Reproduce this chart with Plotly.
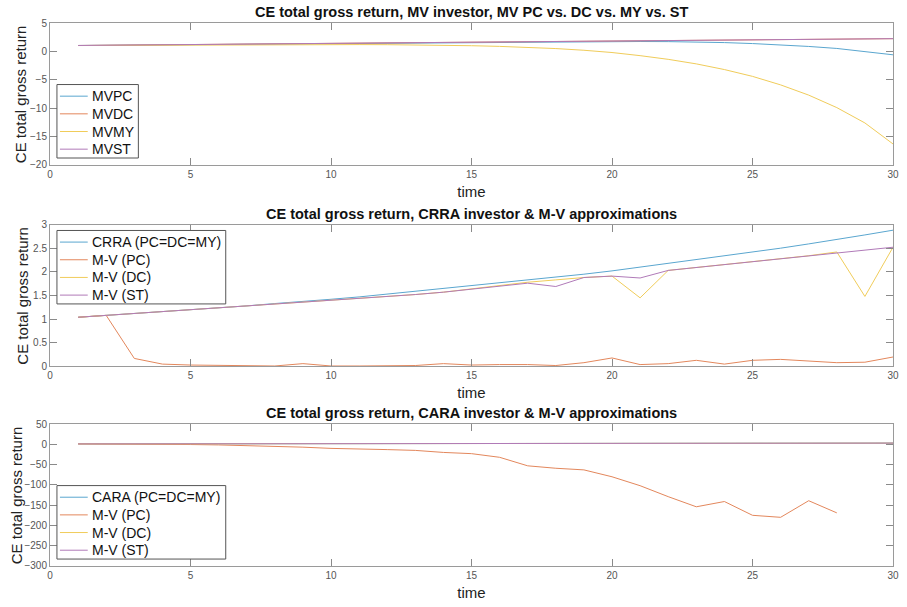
import plotly.graph_objects as go

# ---------------- data ----------------
time = list(range(1, 31))

# Panel 1: MV investor
mvpc = [1.04, 1.08, 1.11, 1.15, 1.19, 1.23, 1.27, 1.31, 1.35, 1.39, 1.43, 1.47, 1.51, 1.55, 1.58,
        1.62, 1.65, 1.68, 1.71, 1.73, 1.74, 1.72, 1.66, 1.55, 1.38, 1.15, 0.87, 0.52, 0.0, -0.6]
mvdc = [1.04, 1.08, 1.11, 1.15, 1.19, 1.23, 1.27, 1.31, 1.35, 1.39, 1.43, 1.47, 1.51, 1.55, 1.59,
        1.63, 1.67, 1.71, 1.75, 1.79, 1.83, 1.87, 1.91, 1.95, 1.99, 2.03, 2.08, 2.13, 2.18, 2.24]
mvmy = [1.03, 1.06, 1.09, 1.12, 1.15, 1.17, 1.19, 1.20, 1.21, 1.21, 1.20, 1.18, 1.14, 1.08, 1.00,
        0.88, 0.72, 0.50, 0.20, -0.20, -0.75, -1.40, -2.20, -3.20, -4.40, -5.90, -7.70, -9.90, -12.60, -16.30]
mvst = [1.04, 1.08, 1.11, 1.15, 1.19, 1.23, 1.27, 1.31, 1.35, 1.39, 1.43, 1.47, 1.51, 1.55, 1.59,
        1.63, 1.67, 1.71, 1.75, 1.79, 1.83, 1.87, 1.91, 1.95, 1.99, 2.03, 2.08, 2.13, 2.18, 2.24]

# Panel 2: CRRA investor & M-V approximations
crra = [1.04, 1.08, 1.11, 1.15, 1.19, 1.24, 1.28, 1.33, 1.37, 1.42, 1.47, 1.53, 1.58, 1.64, 1.70,
        1.76, 1.82, 1.89, 1.95, 2.02, 2.10, 2.17, 2.25, 2.33, 2.41, 2.50, 2.59, 2.68, 2.78, 2.88]
mv_pc = [1.04, 1.08, 0.17, 0.05, 0.03, 0.02, 0.02, 0.01, 0.06, 0.01, 0.01, 0.02, 0.02, 0.06, 0.03,
         0.04, 0.04, 0.02, 0.08, 0.18, 0.04, 0.06, 0.13, 0.05, 0.13, 0.15, 0.11, 0.08, 0.09, 0.20]
mv_dc = [1.04, 1.08, 1.11, 1.15, 1.19, 1.23, 1.27, 1.31, 1.35, 1.40, 1.44, 1.48, 1.52, 1.57, 1.64,
         1.72, 1.78, 1.83, 1.88, 1.91, 1.45, 2.03, 2.09, 2.15, 2.21, 2.27, 2.34, 2.42, 1.48, 2.52]
mv_st = [1.04, 1.08, 1.11, 1.15, 1.19, 1.23, 1.27, 1.31, 1.35, 1.40, 1.44, 1.48, 1.52, 1.57, 1.63,
         1.70, 1.76, 1.69, 1.88, 1.91, 1.87, 2.03, 2.09, 2.15, 2.21, 2.27, 2.33, 2.40, 2.46, 2.52]

# Panel 3: CARA investor & M-V approximations
cara = [1.0, 1.1, 1.2, 1.3, 1.4, 1.5, 1.6, 1.7, 1.8, 1.9, 2.0, 2.1, 2.2, 2.3, 2.4,
        2.5, 2.6, 2.7, 2.8, 2.9, 3.0, 3.0, 3.0, 3.0, 3.0, 3.0, 3.0, 3.0, 3.0, 3.0]
cara_pc = [1.0, 1.0, 0.5, 0.0, -0.5, -1.5, -3.0, -5.0, -7.0, -10.0, -11.0, -13.0, -15.0, -20.0, -23.0,
           -32.0, -53.0, -59.0, -63.0, -80.0, -102.0, -129.0, -154.0, -141.0, -175.0, -180.0, -139.0, -169.0,
           None, None]
cara_dc = cara
cara_st = cara

x_ticks = [0, 5, 10, 15, 20, 25, 30]
y1_ticks = [-20, -15, -10, -5, 0, 5]
y2_ticks = [0, 0.5, 1, 1.5, 2, 2.5, 3]
y3_ticks = [-300, -250, -200, -150, -100, -50, 0, 50]

titles = ["CE total gross return, MV investor, MV PC vs. DC vs. MY vs. ST",
          "CE total gross return, CRRA investor & M-V approximations",
          "CE total gross return, CARA investor & M-V approximations"]
legend_names = [["MVPC", "MVDC", "MVMY", "MVST"],
                ["CRRA (PC=DC=MY)", "M-V (PC)", "M-V (DC)", "M-V (ST)"],
                ["CARA (PC=DC=MY)", "M-V (PC)", "M-V (DC)", "M-V (ST)"]]
y_title = "CE total gross return"
x_title = "time"

# ---------------- styling ----------------
C_BLUE = "#5aa6cf"
C_ORANGE = "#e3875c"
C_YELLOW = "#f0cc5a"
C_PURPLE = "#b07ab8"
colors = [C_BLUE, C_ORANGE, C_YELLOW, C_PURPLE]

FONT = "Liberation Sans, Arial, Helvetica, sans-serif"

fig = go.Figure()

panels = [
    ([mvpc, mvdc, mvmy, mvst], "x", "y"),
    ([crra, mv_pc, mv_dc, mv_st], "x2", "y2"),
    ([cara, cara_pc, cara_dc, cara_st], "x3", "y3"),
]

for (series, xa, ya), names in zip(panels, legend_names):
    for name, vals, col in zip(names, series, colors):
        fig.add_trace(go.Scatter(
            x=time, y=vals, mode="lines", name=name,
            line=dict(color=col, width=1),
            xaxis=xa, yaxis=ya, showlegend=False,
        ))

# geometry (pixels -> paper), margins l=50, r=8, t=23, b=37 -> plot 849 x 547
L, T, W, H = 50.0, 23.0, 849.0, 547.0
def px(xp):
    return (xp - L) / W
def py(yp):
    return 1 - (yp - T) / H
def dom(top_px, bot_px):
    return [py(bot_px), py(top_px)]

panel_px = [(23, 166), (226, 369), (427, 570)]
ylabel_x = [21, 22, 16]

axis_common = dict(
    showline=True, linecolor="#9a9a9a", linewidth=1, mirror="ticks",
    ticks="inside", ticklen=7, tickcolor="#8a8a8a", tickwidth=1,
    showgrid=False, zeroline=False,
    tickfont=dict(family=FONT, size=10, color="#555555"),
)

xcommon = dict(axis_common, range=[0, 30], tickvals=x_ticks,
               title=dict(text=x_title, font=dict(family=FONT, size=15, color="#222222"), standoff=7))

fig.update_layout(
    width=907, height=607,
    margin=dict(l=50, r=8, t=23, b=37),
    paper_bgcolor="white", plot_bgcolor="white",
    font=dict(family=FONT),
    showlegend=False,
    xaxis=dict(xcommon, anchor="y", domain=[0, 1]),
    xaxis2=dict(xcommon, anchor="y2", domain=[0, 1]),
    xaxis3=dict(xcommon, anchor="y3", domain=[0, 1]),
    yaxis=dict(axis_common, anchor="x", domain=dom(*panel_px[0]), range=[-20, 5], tickvals=y1_ticks),
    yaxis2=dict(axis_common, anchor="x2", domain=dom(*panel_px[1]), range=[0, 3], tickvals=y2_ticks,
                ticktext=["0", "0.5", "1", "1.5", "2", "2.5", "3"]),
    yaxis3=dict(axis_common, anchor="x3", domain=dom(*panel_px[2]), range=[-300, 50], tickvals=y3_ticks),
)

# titles and y-axis titles
for t, (top_px, bot_px), lx in zip(titles, panel_px, ylabel_x):
    fig.add_annotation(
        text="<b>" + t + "</b>", x=0.5, xref="paper", y=py(top_px), yref="paper",
        xanchor="center", yanchor="bottom", yshift=1, showarrow=False,
        font=dict(family=FONT, size=14.5, color="#111111"),
    )
    fig.add_annotation(
        text=y_title, textangle=-90, x=px(lx), xref="paper",
        y=py((top_px + bot_px) / 2.0), yref="paper",
        xanchor="center", yanchor="middle", showarrow=False,
        font=dict(family=FONT, size=15, color="#222222"),
    )

# MATLAB-style legend boxes (box, sample lines, labels)
legend_boxes = [(57, 85, 139), (57, 232, 227), (57, 489, 227)]
ROW0, ROWGAP, BOXH = 11.7, 17.8, 74
for names, (bx, by, br) in zip(legend_names, legend_boxes):
    fig.add_shape(type="rect", xref="paper", yref="paper",
                  x0=px(bx), x1=px(br), y0=py(by + BOXH), y1=py(by),
                  fillcolor="white", line=dict(color="#555555", width=1), layer="above")
    for i, (name, col) in enumerate(zip(names, colors)):
        yc = by + ROW0 + i * ROWGAP
        fig.add_shape(type="line", xref="paper", yref="paper",
                      x0=px(bx + 3), x1=px(bx + 31), y0=py(yc), y1=py(yc),
                      line=dict(color=col, width=1), layer="above")
        fig.add_annotation(
            text=name, x=px(bx + 33), xref="paper", y=py(yc), yref="paper",
            xanchor="left", yanchor="middle", showarrow=False,
            font=dict(family=FONT, size=14, color="#111111"),
        )

fig.write_html("out.html", post_script="document.body.style.margin='0px';",
               config={"displayModeBar": False})
